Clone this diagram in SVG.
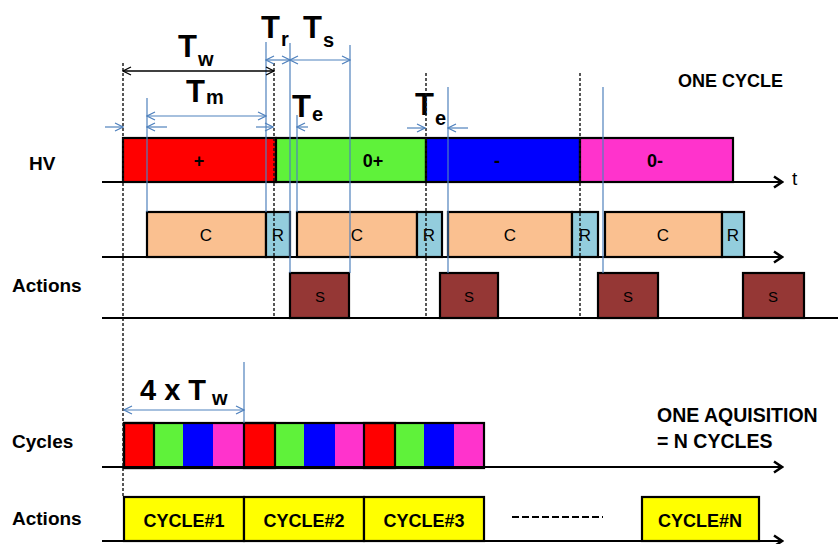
<svg xmlns="http://www.w3.org/2000/svg" width="838" height="544" viewBox="0 0 838 544">
<defs>
<style>
text{font-family:"Liberation Sans",Arial,sans-serif;fill:#000}
.lbl{font-weight:bold;font-size:19px}
.big{font-weight:bold;font-size:31px}
.sub{font-weight:bold;font-size:20px}
.bx{stroke:#000;stroke-width:2.2}
.axis{stroke:#000;stroke-width:2.2;fill:none}
.dash{stroke:#111;stroke-width:1.4;stroke-dasharray:3,2;fill:none}
.bl{stroke:#4f81bd;stroke-width:1.2;fill:none}
.c{fill:#fac090}.r{fill:#93cddd}.s{fill:#953735}.y{fill:#ffff00}
.red{fill:#ff0000}.grn{fill:#5ff23a}.blu{fill:#0000ff}.mag{fill:#ff33cc}
.mid{text-anchor:middle}
.bt{font-size:17px}
.ct{font-weight:bold;font-size:18px;text-anchor:middle}
</style>
<marker id="ax" markerUnits="userSpaceOnUse" markerWidth="14" markerHeight="14" refX="12" refY="7" orient="auto"><path d="M4,1.5 L12,7 L4,12.5" fill="none" stroke="#000" stroke-width="2.5"/></marker>
<marker id="ba" markerUnits="userSpaceOnUse" markerWidth="12" markerHeight="12" refX="11" refY="6" orient="auto-start-reverse"><path d="M3,2 L11,6 L3,10" fill="none" stroke="#4f81bd" stroke-width="1.2"/></marker>
<marker id="ka" markerUnits="userSpaceOnUse" markerWidth="12" markerHeight="12" refX="11" refY="6" orient="auto-start-reverse"><path d="M3,2 L11,6 L3,10" fill="none" stroke="#000" stroke-width="1.3"/></marker>
</defs>
<rect width="838" height="544" fill="#fff"/>

<g id="row-labels">
<text class="lbl" x="29" y="170">HV</text>
<text class="lbl" x="12" y="292">Actions</text>
<text class="lbl" x="12" y="448">Cycles</text>
<text class="lbl" x="12" y="525">Actions</text>
<text x="792" y="185" font-size="19">t</text>
<text class="lbl" x="678" y="87" style="font-size:18px">ONE CYCLE</text>
<text class="lbl" x="657" y="422" style="font-size:19.5px">ONE AQUISITION</text>
<text class="lbl" x="657" y="448" style="font-size:19.5px">= N CYCLES</text>
</g>

<g id="hv-row">
<rect class="bx red" x="123" y="138" width="153" height="44"/>
<rect class="bx grn" x="276" y="138" width="150" height="44"/>
<rect class="bx blu" x="426" y="138" width="154" height="44"/>
<rect class="bx mag" x="580" y="138" width="153" height="44"/>
<text class="ct" x="199" y="167">+</text>
<text class="ct" x="373" y="167">0+</text>
<text class="ct" x="497" y="167">-</text>
<text class="ct" x="655" y="167">0-</text>
</g>

<g id="cr-row">
<rect class="bx c" x="147" y="212" width="119" height="45"/>
<rect class="bx r" x="266" y="212" width="24" height="45"/>
<rect class="bx c" x="297" y="212" width="120" height="45"/>
<rect class="bx r" x="417" y="212" width="25" height="45"/>
<rect class="bx c" x="448" y="212" width="124" height="45"/>
<rect class="bx r" x="572" y="212" width="26" height="45"/>
<rect class="bx c" x="605" y="212" width="117" height="45"/>
<rect class="bx r" x="722" y="212" width="22" height="45"/>
<g class="bt">
<text class="mid" x="206" y="241">C</text>
<text class="mid" x="278" y="241">R</text>
<text class="mid" x="357" y="241">C</text>
<text class="mid" x="429" y="241">R</text>
<text class="mid" x="510" y="241">C</text>
<text class="mid" x="585" y="241">R</text>
<text class="mid" x="663" y="241">C</text>
<text class="mid" x="733" y="241">R</text>
</g>
</g>

<g id="s-row">
<rect class="bx s" x="290" y="273" width="59" height="45"/>
<rect class="bx s" x="440" y="273" width="58" height="45"/>
<rect class="bx s" x="598" y="273" width="60" height="45"/>
<rect class="bx s" x="743" y="273" width="61" height="45"/>
<g font-size="15px">
<text class="mid" x="320" y="302">S</text>
<text class="mid" x="469" y="302">S</text>
<text class="mid" x="628" y="302">S</text>
<text class="mid" x="773" y="302">S</text>
</g>
</g>

<g id="cycles-row">
<rect class="red" x="124" y="423" width="30" height="45"/>
<rect class="grn" x="154" y="423" width="29" height="45"/>
<rect class="blu" x="183" y="423" width="30" height="45"/>
<rect class="mag" x="213" y="423" width="31" height="45"/>
<rect class="red" x="244" y="423" width="31" height="45"/>
<rect class="grn" x="275" y="423" width="29" height="45"/>
<rect class="blu" x="304" y="423" width="31" height="45"/>
<rect class="mag" x="335" y="423" width="29" height="45"/>
<rect class="red" x="364" y="423" width="31" height="45"/>
<rect class="grn" x="395" y="423" width="29" height="45"/>
<rect class="blu" x="424" y="423" width="30" height="45"/>
<rect class="mag" x="454" y="423" width="30" height="45"/>
<g fill="none" class="bx">
<rect x="124" y="423" width="360" height="45"/>
<rect x="124" y="423" width="30" height="45"/>
<rect x="244" y="423" width="31" height="45"/>
<rect x="364" y="423" width="31" height="45"/>
</g>
</g>

<g id="acq-row">
<rect class="bx y" x="124" y="497" width="120" height="44"/>
<rect class="bx y" x="244" y="497" width="120" height="44"/>
<rect class="bx y" x="364" y="497" width="120" height="44"/>
<rect class="bx y" x="642" y="497" width="117" height="44"/>
<text class="ct" x="184" y="527">CYCLE#1</text>
<text class="ct" x="304" y="527">CYCLE#2</text>
<text class="ct" x="424" y="527">CYCLE#3</text>
<text class="ct" x="700" y="527">CYCLE#N</text>
<line x1="512" y1="517" x2="603" y2="517" stroke="#000" stroke-width="2" stroke-dasharray="7,3"/>
</g>

<g id="annotations">
<text class="big" x="178" y="57">T</text><text class="sub" x="198" y="66">w</text>
<text class="big" x="186" y="102">T</text><text class="sub" x="206" y="104">m</text>
<text class="big" x="261" y="38">T</text><text class="sub" x="281" y="46">r</text>
<text class="big" x="303" y="38">T</text><text class="sub" x="323" y="47">s</text>
<text class="big" x="292" y="117">T</text><text class="sub" x="312" y="121">e</text>
<text class="big" x="415" y="115">T</text><text class="sub" x="435" y="125">e</text>
<text class="big" x="140" y="400" style="font-size:29px">4 x T</text><text class="sub" x="212" y="405">w</text>
</g>

<g id="connectors">
<line class="axis" x1="102" y1="182" x2="782" y2="182" marker-end="url(#ax)"/>
<line class="axis" x1="102" y1="257" x2="782" y2="257" marker-end="url(#ax)"/>
<line class="axis" x1="102" y1="318" x2="838" y2="318"/>
<line class="axis" x1="102" y1="467" x2="782" y2="467" marker-end="url(#ax)"/>
<line class="axis" x1="102" y1="541" x2="782" y2="541" marker-end="url(#ax)"/>

<line class="dash" x1="123" y1="63" x2="123" y2="497"/>
<line class="dash" x1="274" y1="63" x2="274" y2="318"/>
<line class="dash" x1="426" y1="73" x2="426" y2="318"/>
<line class="dash" x1="580" y1="73" x2="580" y2="318"/>

<line class="bl" x1="147" y1="98" x2="147" y2="212"/>
<line class="bl" x1="266" y1="42" x2="266" y2="212"/>
<line class="bl" x1="290" y1="43" x2="290" y2="273"/>
<line class="bl" x1="297" y1="115" x2="297" y2="212"/>
<line class="bl" x1="350" y1="45" x2="350" y2="273"/>
<line class="bl" x1="448" y1="87" x2="448" y2="273"/>
<line class="bl" x1="603" y1="87" x2="603" y2="273"/>
<line class="bl" x1="244" y1="362" x2="244" y2="423"/>

<line x1="123" y1="71" x2="274" y2="71" stroke="#000" stroke-width="1.3" marker-start="url(#ka)" marker-end="url(#ka)"/>
<line class="bl" x1="147" y1="116" x2="266" y2="116" marker-start="url(#ba)" marker-end="url(#ba)"/>
<line class="bl" x1="266" y1="60" x2="290" y2="60" marker-start="url(#ba)" marker-end="url(#ba)"/>
<line class="bl" x1="290" y1="60" x2="350" y2="60" marker-start="url(#ba)" marker-end="url(#ba)"/>
<line class="bl" x1="124" y1="410" x2="244" y2="410" marker-start="url(#ba)" marker-end="url(#ba)"/>

<line class="bl" x1="105" y1="127" x2="123" y2="127" marker-end="url(#ba)"/>
<line class="bl" x1="167" y1="127" x2="147" y2="127" marker-end="url(#ba)"/>
<line class="bl" x1="256" y1="127" x2="273" y2="127" marker-end="url(#ba)"/>
<line class="bl" x1="308" y1="127" x2="297" y2="127" marker-end="url(#ba)"/>
<line class="bl" x1="407" y1="128" x2="425" y2="128" marker-end="url(#ba)"/>
<line class="bl" x1="468" y1="128" x2="448" y2="128" marker-end="url(#ba)"/>
</g>
</svg>
